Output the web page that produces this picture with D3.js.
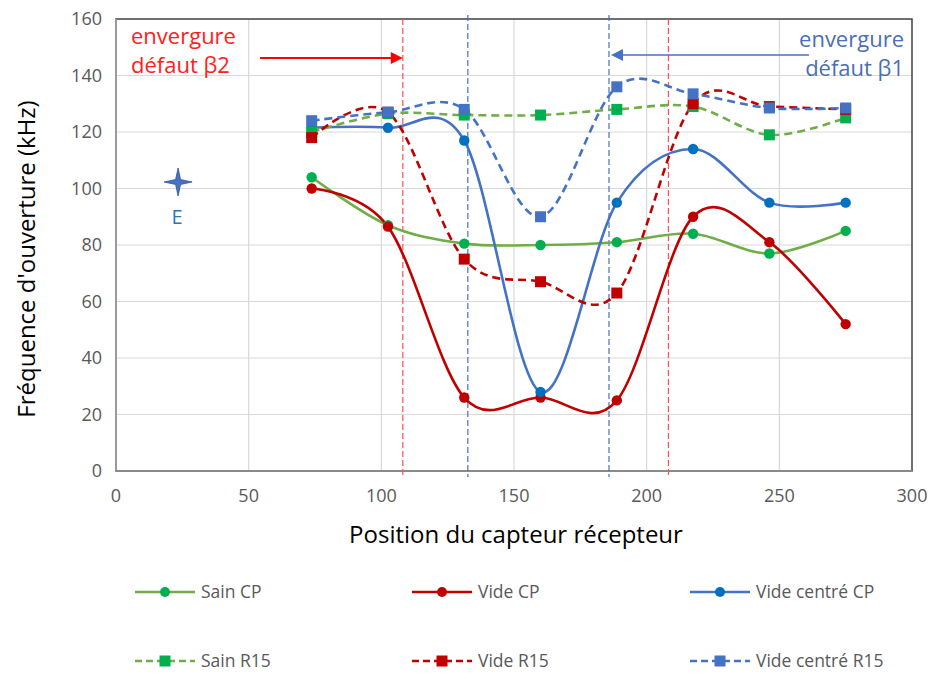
<!DOCTYPE html>
<html><head><meta charset="utf-8">
<script src="https://cdn.jsdelivr.net/npm/d3@7"></script>
<style>body{margin:0;background:#fff}svg{display:block;font-family:"Open Sans",sans-serif}</style>
</head><body><svg id="c" width="934" height="673"></svg>
<script>
const positions = [73.75, 102.5, 131.25, 160, 188.75, 217.5, 246.25, 275];
const sainCP = [104, 87, 80.5, 80, 81, 84, 77, 85];
const videCP = [100, 86.5, 26, 26, 25, 90, 81, 52];
const videCentreCP = [121.5, 121.5, 117, 28, 95, 114, 95, 95];
const sainR15 = [120, 126.5, 126, 126, 128, 129, 119, 125];
const videR15 = [118, 127, 75, 67, 63, 130, 129, 128];
const videCentreR15 = [124, 127, 128, 90, 136, 133.5, 128.5, 128.5];
const xTicks = [0, 50, 100, 150, 200, 250, 300];
const yTicks = [0, 20, 40, 60, 80, 100, 120, 140, 160];
const redLimits = [108.1, 208.2];
const blueLimits = [132.6, 185.8];
const emitter = {x: 23.4, y: 102.3, label: "E"};

const series = [
  {name: "Sain CP", values: sainCP, line: "#70AD47", mark: "#00B050", dash: null, shape: "circle"},
  {name: "Vide CP", values: videCP, line: "#C00000", mark: "#C00000", dash: null, shape: "circle"},
  {name: "Vide centré CP", values: videCentreCP, line: "#4472C4", mark: "#0070C0", dash: null, shape: "circle"},
  {name: "Sain R15", values: sainR15, line: "#70AD47", mark: "#00B050", dash: "8,5", shape: "square"},
  {name: "Vide R15", values: videR15, line: "#C00000", mark: "#C00000", dash: "8,5", shape: "square"},
  {name: "Vide centré R15", values: videCentreR15, line: "#4472C4", mark: "#4472C4", dash: "8,5", shape: "square"}
];

const svg = d3.select("#c");
const L = 116, R = 912, T = 19, B = 471;
const x = d3.scaleLinear().domain([0, 300]).range([L, R]);
const y = d3.scaleLinear().domain([0, 160]).range([B, T]);

// grid
svg.append("g").selectAll("line").data(yTicks.slice(1, -1)).join("line")
  .attr("x1", L).attr("x2", R).attr("y1", d => y(d)).attr("y2", d => y(d))
  .attr("stroke", "#d9d9d9").attr("stroke-width", 1.2);
svg.append("g").selectAll("line").data(xTicks.slice(1, -1)).join("line")
  .attr("y1", T).attr("y2", B).attr("x1", d => x(d)).attr("x2", d => x(d))
  .attr("stroke", "#d9d9d9").attr("stroke-width", 1.2);

// frame
svg.append("rect").attr("x", L).attr("y", T).attr("width", R - L).attr("height", B - T)
  .attr("fill", "none").attr("stroke", "#404040").attr("stroke-width", 1.5);
svg.append("line").attr("x1", L).attr("x2", L).attr("y1", T).attr("y2", B + 1)
  .attr("stroke", "#9a9a9a").attr("stroke-width", 2);
svg.append("line").attr("x1", L).attr("x2", R).attr("y1", B).attr("y2", B)
  .attr("stroke", "#8a8a8a").attr("stroke-width", 2.2);

// limit lines
svg.append("g").selectAll("line").data(redLimits).join("line")
  .attr("x1", d => x(d)).attr("x2", d => x(d)).attr("y1", T).attr("y2", B + 6)
  .attr("stroke", "#FF5050").attr("stroke-width", 1.2).attr("stroke-dasharray", "6,3");
svg.append("g").selectAll("line").data(blueLimits).join("line")
  .attr("x1", d => x(d)).attr("x2", d => x(d)).attr("y1", T - 4).attr("y2", B + 6)
  .attr("stroke", "#4472C4").attr("stroke-width", 1.2).attr("stroke-dasharray", "6,3");

// ticks labels
svg.append("g").selectAll("text").data(yTicks).join("text")
  .attr("x", 102).attr("y", d => y(d) + 6).attr("text-anchor", "end")
  .attr("font-size", 18).attr("fill", "#595959").text(d => d);
svg.append("g").selectAll("text").data(xTicks).join("text")
  .attr("x", d => x(d)).attr("y", 502).attr("text-anchor", "middle")
  .attr("font-size", 18).attr("fill", "#595959").text(d => d);

// axis titles
svg.append("text").attr("x", 516).attr("y", 543).attr("text-anchor", "middle")
  .attr("font-size", 24).attr("fill", "#000").text("Position du capteur récepteur");
svg.append("text").attr("transform", "translate(35,259) rotate(-90)").attr("text-anchor", "middle")
  .attr("font-size", 24).attr("fill", "#000").text("Fréquence d'ouverture (kHz)");

// curves
const line = d3.line().x((d, i) => x(positions[i])).y(d => y(d)).curve(d3.curveCardinal.tension(0));
series.forEach(s => {
  svg.append("path").attr("d", line(s.values)).attr("fill", "none")
    .attr("stroke", s.line).attr("stroke-width", 2.6)
    .attr("stroke-dasharray", s.dash);
});
series.forEach(s => {
  const g = svg.append("g");
  if (s.shape === "circle") {
    g.selectAll("circle").data(s.values).join("circle")
      .attr("cx", (d, i) => x(positions[i])).attr("cy", d => y(d)).attr("r", 5.2).attr("fill", s.mark);
  } else {
    g.selectAll("rect").data(s.values).join("rect")
      .attr("x", (d, i) => x(positions[i]) - 5.5).attr("y", d => y(d) - 5.5)
      .attr("width", 11).attr("height", 11).attr("fill", s.mark);
  }
});

// emitter star
const ex = x(emitter.x), ey = y(emitter.y);
const star = d3.path();
const rO = 14, rI = 3.5;
for (let k = 0; k < 8; k++) {
  const a = -Math.PI / 2 + k * Math.PI / 4;
  const r = k % 2 === 0 ? rO : rI;
  const px = ex + r * Math.cos(a), py = ey + r * Math.sin(a);
  if (k === 0) star.moveTo(px, py); else star.lineTo(px, py);
}
star.closePath();
svg.append("path").attr("d", star.toString()).attr("fill", "#4472C4").attr("stroke", "#2F5597").attr("stroke-width", 0.8);
svg.append("text").attr("x", ex - 1).attr("y", 224).attr("text-anchor", "middle")
  .attr("font-size", 20).attr("fill", "#2E75B6").text(emitter.label);

// annotations
svg.append("text").attr("x", 131).attr("y", 44).attr("font-size", 22).attr("fill", "#FF2020").text("envergure");
svg.append("text").attr("x", 131).attr("y", 73).attr("font-size", 22).attr("fill", "#FF2020").text("défaut β2");
svg.append("text").attr("x", 904).attr("y", 47).attr("text-anchor", "end").attr("font-size", 22).attr("fill", "#4A6FB5").text("envergure");
svg.append("text").attr("x", 904).attr("y", 76).attr("text-anchor", "end").attr("font-size", 22).attr("fill", "#4A6FB5").text("défaut β1");

// arrows
const ay1 = 58, ax1s = 260, ax1e = x(redLimits[0]);
svg.append("line").attr("x1", ax1s).attr("x2", ax1e - 10).attr("y1", ay1).attr("y2", ay1)
  .attr("stroke", "#FF0000").attr("stroke-width", 2);
svg.append("path").attr("d", `M${ax1e},${ay1} L${ax1e - 12},${ay1 - 6} L${ax1e - 12},${ay1 + 6} Z`).attr("fill", "#FF0000");
const ay2 = 55, ax2s = 809, ax2e = x(blueLimits[1]) + 2;
svg.append("line").attr("x1", ax2s).attr("x2", ax2e + 10).attr("y1", ay2).attr("y2", ay2)
  .attr("stroke", "#4472C4").attr("stroke-width", 1.6);
svg.append("path").attr("d", `M${ax2e},${ay2} L${ax2e + 12},${ay2 - 6} L${ax2e + 12},${ay2 + 6} Z`).attr("fill", "#4472C4");

// legend
const legPos = [[135, 592], [412, 592], [690, 592], [135, 661], [412, 661], [690, 661]];
series.forEach((s, i) => {
  const [lx, ly] = legPos[i];
  const g = svg.append("g");
  g.append("line").attr("x1", lx).attr("x2", lx + 60).attr("y1", ly).attr("y2", ly)
    .attr("stroke", s.line).attr("stroke-width", 2.6).attr("stroke-dasharray", s.dash ? "7,4" : null);
  if (s.shape === "circle") g.append("circle").attr("cx", lx + 30).attr("cy", ly).attr("r", 5).attr("fill", s.mark);
  else g.append("rect").attr("x", lx + 24.5).attr("y", ly - 5.5).attr("width", 11).attr("height", 11).attr("fill", s.mark);
  g.append("text").attr("x", lx + 66).attr("y", ly + 6).attr("font-size", 17.5).attr("fill", "#595959").text(s.name);
});
</script></body></html>
